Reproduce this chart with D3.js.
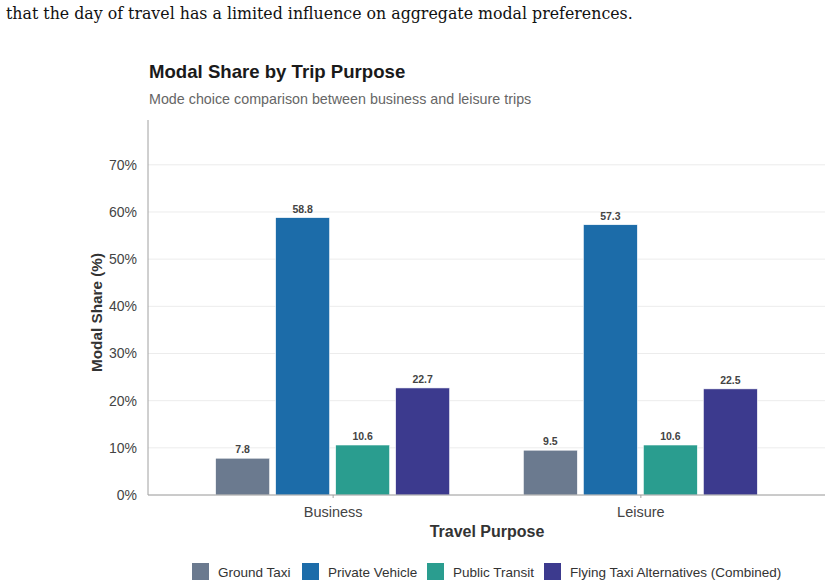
<!DOCTYPE html>
<html lang="en">
<head>
<meta charset="utf-8" />
<title>Modal Share by Trip Purpose</title>
<style>
  body { margin: 0; background: #fff; }
  svg { display: block; font-family: 'Liberation Sans', Arial, sans-serif; }
  .lead { font-family: 'DejaVu Serif', 'Liberation Serif', serif; font-size: 15.8px; fill: #111; }
  .grid line { stroke: #ececec; stroke-width: 1; }
  .tick text { fill: #444; font-size: 14px; }
  .xax .tick text { font-size: 14.5px; }
  .xax .tick line { stroke: #a0a0a0; }
</style>
</head>
<body>
<script src="https://d3js.org/d3.v7.min.js"></script>
<script>
// data
const purposes = ["Business", "Leisure"];
const modes = ["Ground Taxi", "Private Vehicle", "Public Transit", "Flying Taxi Alternatives (Combined)"];
const business = [7.8, 58.8, 10.6, 22.7];
const leisure  = [9.5, 57.3, 10.6, 22.5];
const yTicks = [0, 10, 20, 30, 40, 50, 60, 70];
const colors = ["#6b7a8f", "#1c6ca9", "#2a9d8f", "#3c3a8e"];

const rows = purposes.map((p, i) => ({
  purpose: p,
  values: (i === 0 ? business : leisure).map((v, j) => ({ mode: modes[j], value: v }))
}));

const W = 832, H = 587;
const plot = { left: 148, right: 825, top: 120, bottom: 495 };

const svg = d3.select("body").append("svg").attr("width", W).attr("height", H);

svg.append("text").attr("class", "lead").attr("x", 6).attr("y", 19)
  .text("that the day of travel has a limited influence on aggregate modal preferences.");

svg.append("text").attr("x", 149).attr("y", 78)
  .attr("font-size", 18.6).attr("font-weight", "bold").attr("fill", "#1a1a1a")
  .text("Modal Share by Trip Purpose");
svg.append("text").attr("x", 149).attr("y", 104)
  .attr("font-size", 14.3).attr("fill", "#666")
  .text("Mode choice comparison between business and leisure trips");

const y = d3.scaleLinear().domain([0, 79.5]).range([plot.bottom, plot.top]);
// discrete positions like ggplot (expand 0.6 on each side)
const x0 = d3.scalePoint().domain(purposes).range([plot.left, plot.right]).padding(0.6);
const groupW = 234;
const x1 = d3.scaleBand().domain(modes).range([-groupW / 2, groupW / 2]).paddingInner(0.1);

// grid
svg.append("g").attr("class", "grid")
  .selectAll("line").data(yTicks).join("line")
  .attr("x1", plot.left).attr("x2", plot.right)
  .attr("y1", d => y(d)).attr("y2", d => y(d));

// y axis
const yAxis = svg.append("g").attr("transform", `translate(${plot.left},0)`)
  .call(d3.axisLeft(y).tickValues(yTicks).tickFormat(d => d + "%").tickSize(0).tickPadding(11));
yAxis.select(".domain").remove();
svg.append("line").attr("x1", plot.left).attr("x2", plot.left)
  .attr("y1", plot.top).attr("y2", plot.bottom).attr("stroke", "#a0a0a0");

// bars
const groups = svg.append("g").selectAll("g").data(rows).join("g")
  .attr("transform", d => `translate(${x0(d.purpose)},0)`);
groups.selectAll("rect").data(d => d.values).join("rect")
  .attr("x", d => x1(d.mode)).attr("width", x1.bandwidth())
  .attr("y", d => y(d.value)).attr("height", d => y(0) - y(d.value))
  .attr("fill", (d, i) => colors[i])
  .attr("stroke", "#fff").attr("stroke-width", 0.6);
groups.selectAll("text").data(d => d.values).join("text")
  .attr("x", d => x1(d.mode) + x1.bandwidth() / 2).attr("y", d => y(d.value) - 5)
  .attr("text-anchor", "middle").attr("font-size", 10.5).attr("font-weight", "bold")
  .attr("fill", "#444").text(d => d.value.toFixed(1));

// x axis
const xAxis = svg.append("g").attr("class", "xax").attr("transform", `translate(0,${plot.bottom})`)
  .call(d3.axisBottom(x0).tickSize(3).tickPadding(9));
xAxis.select(".domain").remove();
svg.append("line").attr("x1", plot.left).attr("x2", plot.right)
  .attr("y1", plot.bottom).attr("y2", plot.bottom).attr("stroke", "#a0a0a0");

// axis titles
svg.append("text").attr("x", 487).attr("y", 537).attr("text-anchor", "middle")
  .attr("font-size", 16).attr("font-weight", "bold").attr("fill", "#333")
  .text("Travel Purpose");
svg.append("text").attr("transform", `translate(102,${(plot.top + plot.bottom) / 2 + 5}) rotate(-90)`)
  .attr("text-anchor", "middle").attr("font-size", 15.3).attr("font-weight", "bold").attr("fill", "#333")
  .text("Modal Share (%)");

// legend
const legendX = [192, 302, 427, 544];
const legend = svg.append("g").selectAll("g").data(modes).join("g")
  .attr("transform", (d, i) => `translate(${legendX[i]},563)`);
legend.append("rect").attr("width", 17).attr("height", 17)
  .attr("fill", (d, i) => colors[i]);
legend.append("text").attr("x", 26).attr("y", 14)
  .attr("font-size", 13.5).attr("fill", "#333").text(d => d);
</script>
</body>
</html>
